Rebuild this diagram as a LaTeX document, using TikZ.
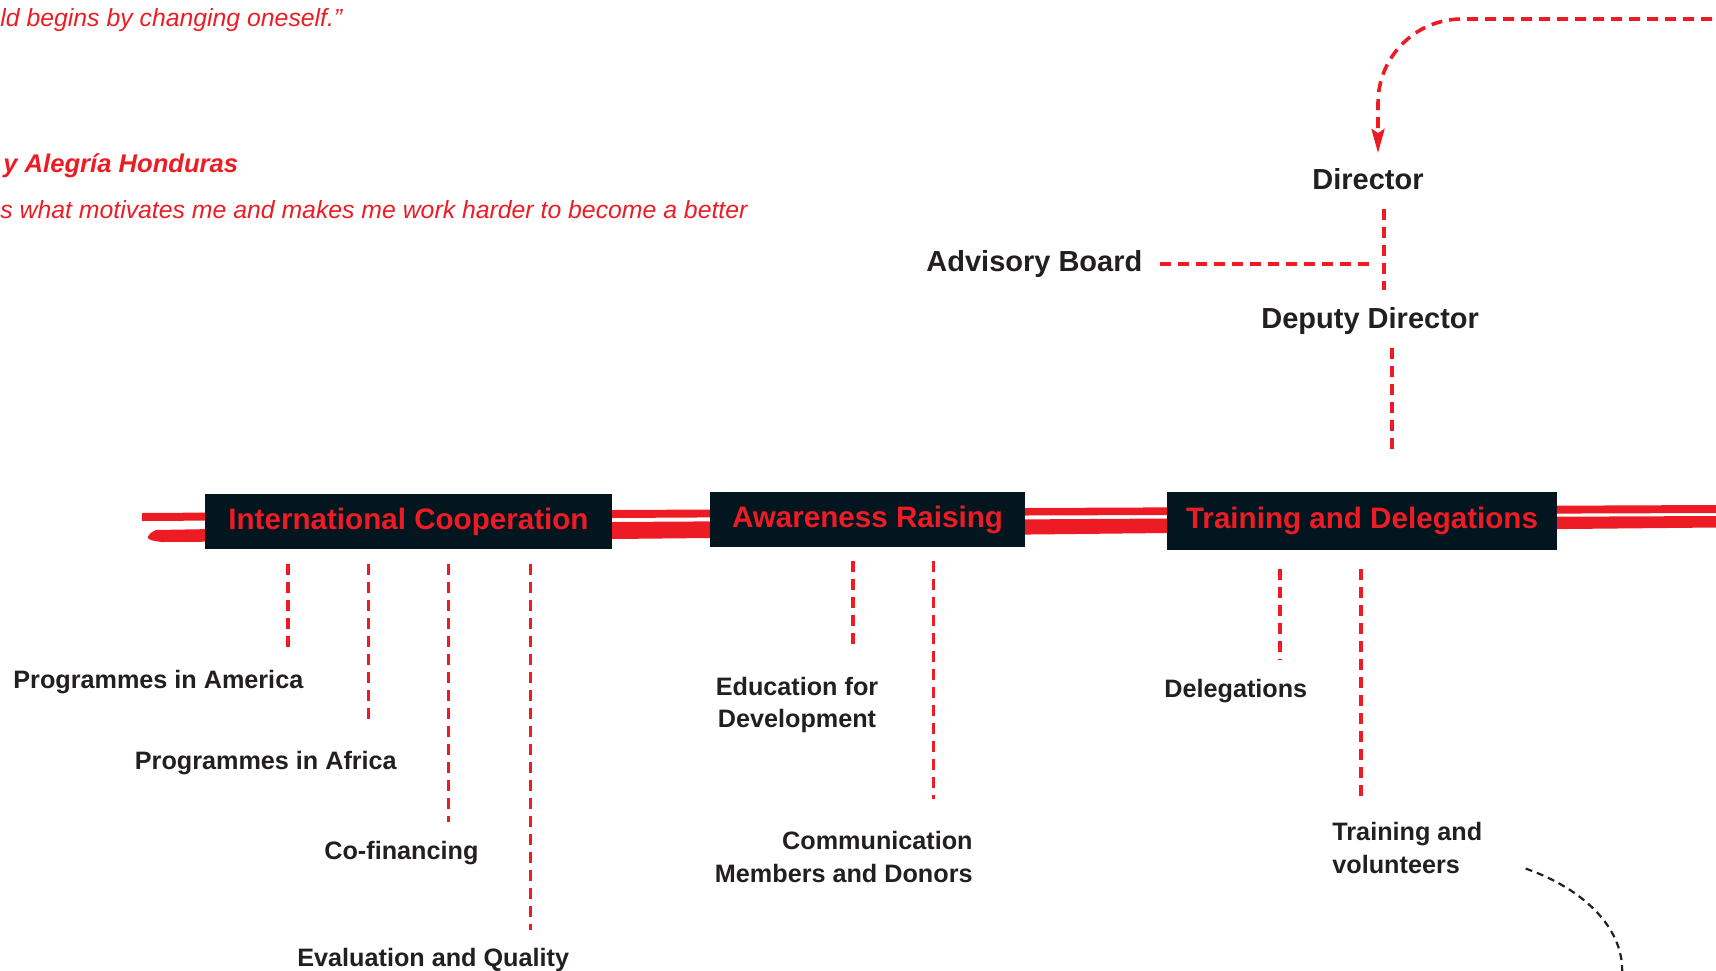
\documentclass[tikz,border=0pt]{standalone}
\usepackage{fontspec}
\setmainfont{Liberation Sans}
\usetikzlibrary{arrows.meta, calc}
\definecolor{alered}{HTML}{ED1C24}
\definecolor{boxink}{HTML}{03151F}
\definecolor{labelink}{HTML}{231F20}

\begin{document}
\begin{tikzpicture}[x=0.5pt, y=-0.5pt,
  area/.style={fill=boxink, text=alered, inner sep=0pt,
    font=\fontsize{14.8}{17}\selectfont\bfseries},
  unit/.style={text=labelink, inner sep=0pt,
    font=\fontsize{12.6}{16.4}\selectfont\bfseries},
  head/.style={text=labelink, inner sep=0pt, anchor=north west,
    font=\fontsize{14.5}{17}\selectfont\bfseries},
  quote/.style={text=alered, inner sep=0pt, anchor=base west,
    font=\fontsize{12.4}{15}\selectfont\itshape},
  link/.style={draw=alered, line width=1.8pt, dash pattern=on 5.5pt off 3.5pt},
  trail/.style={draw=labelink, line width=1.1pt, dash pattern=on 3.5pt off 2.5pt}
]
\clip (0,0) rectangle (1716,970);

% quotes (cut at the left)
\node[quote] (q1) at (0,26) {ld begins by changing oneself.”};
\node[quote, font=\fontsize{12.8}{15}\selectfont\bfseries\itshape] (q2) at (3,172.7) {y Alegría Honduras};
\node[quote] (q3) at (0,218) {s what motivates me and makes me work harder to become a better};

% brush strokes
\fill[alered] (142,513) -- (612,510) -- (1025,508) -- (1716,505) --
	(1716,513) -- (1025,515.5) -- (612,518) -- (142,521) -- cycle;
\fill[alered] (156,530) -- (612,522) -- (1167,518.5) -- (1716,516) --
	(1716,527.5) -- (1167,533) -- (710,538) -- (612,539) --
	(162,542) .. controls (152,541) and (146,539) ..
	(148,536.5) .. controls (150,533) and (153,531) .. (156,530) -- cycle;

\node[area, minimum width=203.5pt, minimum height=27.5pt] (ic) at (408.5,521.5) {International Cooperation};
\node[area, minimum width=157.5pt, minimum height=27.5pt] (ar) at (867.5,519.5) {Awareness Raising};
\node[area, minimum width=195pt, minimum height=29pt] (td) at (1362,521) {Training and Delegations};

\node[head] (dir) at (1312,168) {Director};
\node[head] (ab) at (926,250) {Advisory Board};
\node[head] (dd) at (1261,307.5) {Deputy Director};

\node[unit, anchor=north west] (pa) at (13,670) {Programmes in America};
\node[unit, anchor=north west] (pf) at (134.5,751) {Programmes in Africa};
\node[unit, anchor=north west] (cf) at (324,841) {Co-financing};
\node[unit, anchor=north west] (eq) at (297,948) {Evaluation and Quality};
\node[unit, anchor=north, align=center] (ed) at (797,676.5) {Education for\\Development};
\node[unit, anchor=north east, align=right] (cm) at (973,831) {Communication\\Members and Donors};
\node[unit, anchor=north west] (dl) at (1164,679) {Delegations};
\node[unit, anchor=north west, align=left] (tv) at (1332,822) {Training and\\volunteers};

\coordinate (in) at (1730,19);
\coordinate (off) at (1622,975);

\draw[link, rounded corners=42pt, shorten >=7.5pt,
	-{Stealth[length=12pt, width=6.5pt, inset=2pt]}] (in) -| (dir.north -| 1378,0);
\draw[link, shorten <=9.25pt, shorten >=8.75pt] (dir.south -| 1384,0) -- (dd.north -| 1384,0);
\draw[link, shorten <=8.5pt] (ab.east) -- (ab.east -| dd.north);
\draw[link, shorten <=6.5pt, shorten >=19pt] (dd.south -| 1392,0) -- (td.north -| 1392,0);

\draw[link, shorten <=7.5pt, shorten >=8.5pt] (ic.south -| 288,0) -- (pa.north -| 288,0);
\draw[link, shorten <=7.5pt, shorten >=12.5pt] (ic.south -| 368.5,0) -- (pf.north -| 368.5,0);
\draw[link, shorten <=7.5pt, shorten >=9.5pt] (ic.south -| 448.5,0) -- (cf.north -| 448.5,0);
\draw[link, shorten <=7.5pt, shorten >=9pt] (ic.south -| 530.5,0) -- (eq.north -| 530.5,0);

\draw[link, shorten <=7pt, shorten >=12.75pt] (ar.south -| 853,0) -- (ed.north -| 853,0);
\draw[link, shorten <=7pt, shorten >=16pt] (ar.south -| 933.5,0) -- (cm.north -| 933.5,0);

\draw[link, shorten <=9.5pt, shorten >=9.5pt] (td.south -| 1280,0) -- (dl.north -| 1280,0);
\draw[link, shorten <=9.5pt, shorten >=10.5pt] (td.south -| 1361,0) -- (tv.north -| 1361,0);

\draw[trail] ([xshift=21.5pt, yshift=-10.25pt]tv.east) .. controls +(60,21) and +(3,-45) .. (off);
\end{tikzpicture}
\end{document}
